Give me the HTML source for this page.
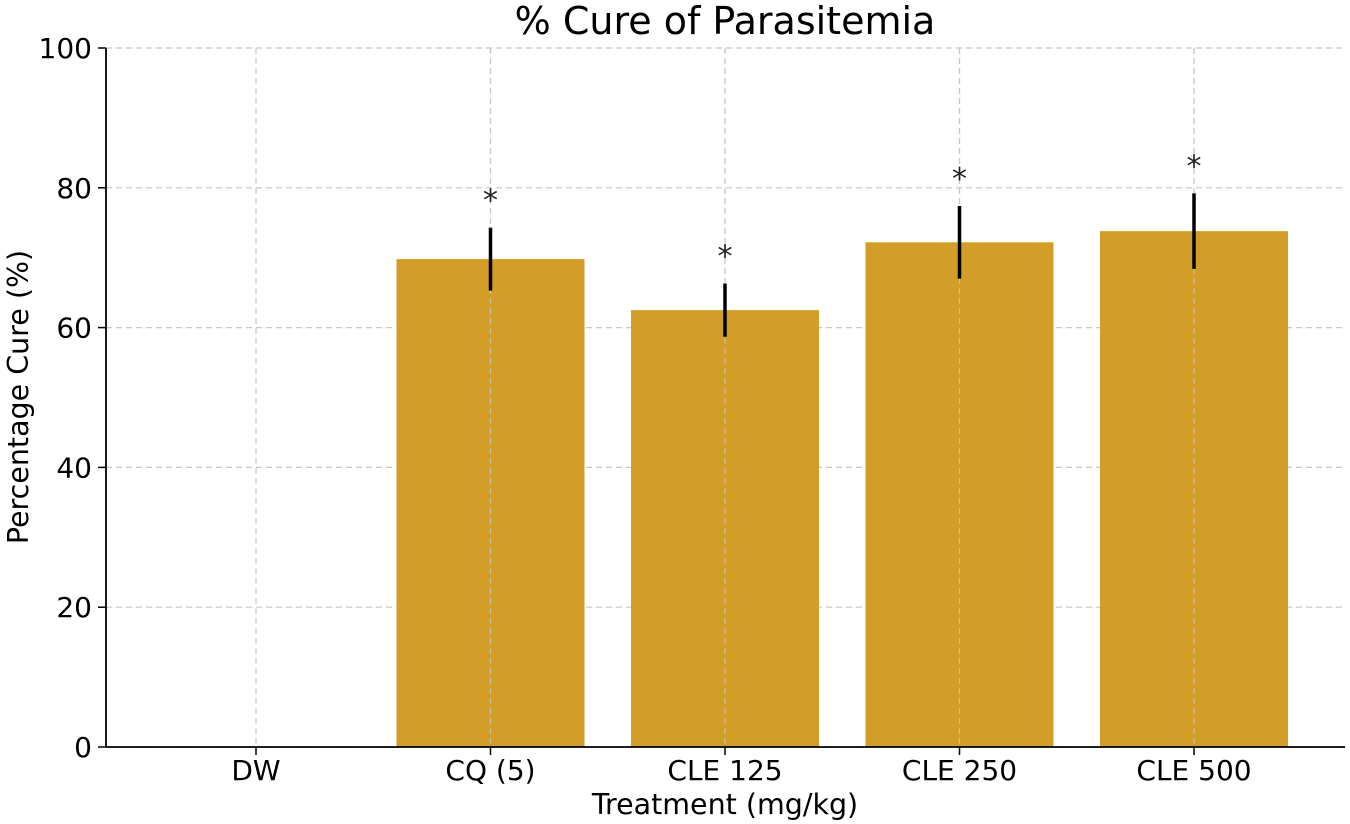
<!DOCTYPE html>
<html><head><meta charset="utf-8"><style>
html,body{margin:0;padding:0;background:#fff;}
svg{display:block;font-family:"DejaVu Sans","Liberation Sans",sans-serif;}
</style></head><body>
<svg id="chart" width="1350" height="824" xmlns="http://www.w3.org/2000/svg">
<text x="725" y="34" font-size="38" text-anchor="middle" fill="#000">% Cure of Parasitemia</text>
<text x="725" y="814" font-size="28.5" text-anchor="middle" fill="#000">Treatment (mg/kg)</text>
<text transform="translate(28,397) rotate(-90)" font-size="28.5" text-anchor="middle" fill="#000">Percentage Cure (%)</text>
<g id="grid"></g><g id="bars"></g><g id="axes"></g>
</svg>
<script>
const categories = ["DW","CQ (5)","CLE 125","CLE 250","CLE 500"];
const values = [0,69.8,62.5,72.2,73.8];
const errors = [0,4.5,3.8,5.2,5.4];
const significant = [false,true,true,true,true];
const yTicks = [0,20,40,60,80,100];
const NS="http://www.w3.org/2000/svg";
const L=106,R=1345,T=48,B=747;
const y=v=>B-(v/100)*(B-T);
const x=i=>256+i*234.5;
const bw=188;
function mk(tag,attrs,parent){const e=document.createElementNS(NS,tag);for(const k in attrs)e.setAttribute(k,attrs[k]);parent.appendChild(e);return e;}
const grid=document.getElementById('grid'),bars=document.getElementById('bars'),axes=document.getElementById('axes');
yTicks.forEach(t=>{
 const g=mk('line',{x1:L,x2:R,y1:y(t),y2:y(t),stroke:'#c8c8c8','stroke-dasharray':'6,4','stroke-width':1.2},grid);
 
 
 const tk=mk('line',{x1:L-8,x2:L,y1:y(t),y2:y(t),stroke:'#000','stroke-width':1.5},axes);
 
 
 const lb=mk('text',{x:L-14,y:y(t)+10,'font-size':28,'text-anchor':'end'},axes);
 lb.textContent=t;
 
 
});
categories.forEach((c,i)=>{
 const g=mk('line',{x1:x(i),x2:x(i),y1:T,y2:B,stroke:'#c8c8c8','stroke-dasharray':'6,4','stroke-width':1.2},grid);
 
 
 if(values[i]>0){
  const b=mk('rect',{x:x(i)-bw/2,y:y(values[i]),width:bw,height:B-y(values[i]),fill:'#D29E27'},bars);
  
  
  const gl=mk('line',{x1:x(i),x2:x(i),y1:T,y2:B,stroke:'#c8c8c8','stroke-dasharray':'6,4','stroke-width':1.2,opacity:0.8},bars);
  
  
 }
 if(errors[i]>0){
  const e=mk('line',{x1:x(i),x2:x(i),y1:y(values[i]+errors[i]),y2:y(values[i]-errors[i]),stroke:'#000','stroke-width':3.5},bars);
  
  
 }
 if(significant[i]){
  const s=mk('text',{x:x(i),y:y(values[i]+errors[i])-17,'font-size':30,'text-anchor':'middle',fill:'#222'},bars);
  s.textContent='*';
  
  
 }
 const tk=mk('line',{x1:x(i),x2:x(i),y1:B,y2:B+8,stroke:'#000','stroke-width':1.5},axes);
 
 
 const lb=mk('text',{x:x(i),y:B+33,'font-size':28,'text-anchor':'middle'},axes);
 lb.textContent=c;
 
 
});
const la=mk('line',{x1:L,x2:L,y1:T,y2:B,stroke:'#000','stroke-width':1.8},axes);


const ba=mk('line',{x1:L,x2:R,y1:B,y2:B,stroke:'#000','stroke-width':1.8},axes);


</script>
</body></html>
